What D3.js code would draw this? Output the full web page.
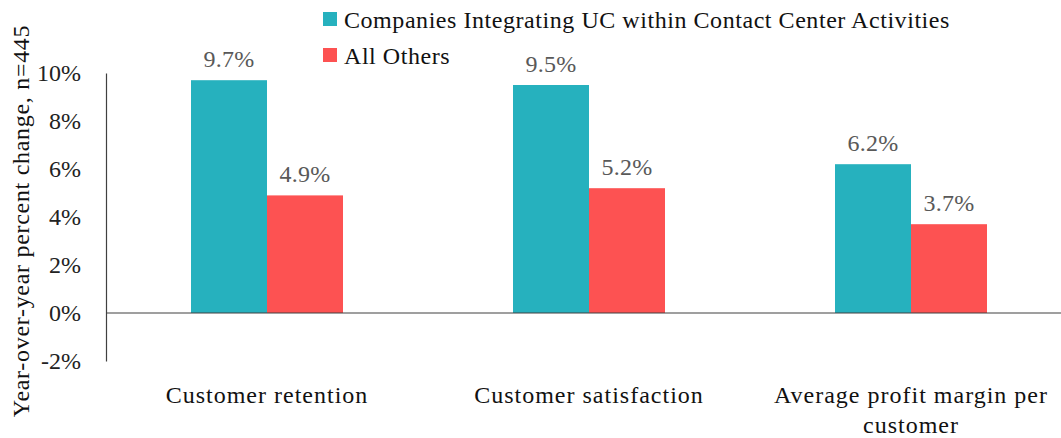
<!DOCTYPE html>
<html><head><meta charset="utf-8">
<script src="https://cdn.jsdelivr.net/npm/d3@7"></script>
<style>body{margin:0;background:#fff}svg{display:block}svg text{font-family:"Liberation Serif","Times New Roman",Tinos,Times,"DejaVu Serif",serif !important}</style>
</head><body><svg id="c" width="1061" height="438"></svg>
<script>
const categories = [["Customer retention"], ["Customer satisfaction"], ["Average profit margin per", "customer"]];
const seriesNames = ["Companies Integrating UC within Contact Center Activities", "All Others"];
const ucValues = [9.7, 9.5, 6.2];
const otherValues = [4.9, 5.2, 3.7];
const yTicks = [-2, 0, 2, 4, 6, 8, 10];
const colors = ["#26B1BE", "#FD5252"];
const FONT = '"Liberation Serif","Times New Roman",Tinos,Times,"DejaVu Serif",serif';

const svg = d3.select("#c");
const x = d3.scaleBand().domain(d3.range(categories.length)).range([106, 1072]);
const y = d3.scaleLinear().domain([-2, 10]).range([361, 73]);
const barW = 76;
const series = [ucValues, otherValues];

series.forEach((vals, si) => {
  svg.append("g").selectAll("rect").data(vals).join("rect")
    .attr("x", (d, i) => x(i) + x.bandwidth() / 2 - barW + si * barW)
    .attr("width", barW)
    .attr("y", d => y(Math.max(0, d)))
    .attr("height", d => Math.abs(y(d) - y(0)))
    .attr("fill", colors[si]);
  svg.append("g").selectAll("text").data(vals).join("text")
    .attr("x", (d, i) => x(i) + x.bandwidth() / 2 - barW / 2 + si * barW)
    .attr("y", d => y(d) - 13)
    .attr("text-anchor", "middle")
    .attr("font-family", FONT)
    .attr("font-size", 24)
    .attr("letter-spacing", 0.3)
    .attr("fill", "#595959")
    .text(d => d.toFixed(1) + "%");
});

const ya = svg.append("g").attr("transform", "translate(106,0)")
  .call(d3.axisLeft(y).tickValues(yTicks).tickSize(0).tickPadding(25).tickFormat(d => d + "%"));
ya.attr("font-family", FONT);
ya.select(".domain").attr("stroke", "#404040").attr("stroke-width", 1.2);
ya.selectAll("text").attr("font-size", 24).attr("fill", "#222").attr("dy", "0.3em");

svg.append("line").attr("x1", 106).attr("x2", 1061).attr("y1", y(0)).attr("y2", y(0))
  .attr("stroke", "#404040").attr("stroke-width", 1.2);

const cl = svg.append("g").selectAll("text").data(categories).join("text")
  .attr("x", (d, i) => x(i) + x.bandwidth() / 2)
  .attr("y", 403)
  .attr("text-anchor", "middle")
  .attr("font-family", FONT)
  .attr("font-size", 24)
  .attr("letter-spacing", 1.0)
  .attr("fill", "#111");
cl.selectAll("tspan").data(d => d).join("tspan")
  .attr("x", function () { return d3.select(this.parentNode).attr("x"); })
  .attr("dy", (d, i) => i === 0 ? 0 : 30)
  .text(d => d);

svg.append("text").attr("transform", "translate(29,221) rotate(-90)")
  .attr("text-anchor", "middle").attr("font-family", FONT).attr("font-size", 24).attr("fill", "#111")
  .attr("letter-spacing", 0.7)
  .text("Year-over-year percent change, n=445");

const lg = svg.append("g").selectAll("g").data(seriesNames).join("g")
  .attr("transform", (d, i) => `translate(323,${12 + i * 36})`);
lg.append("rect").attr("width", 14).attr("height", 14).attr("fill", (d, i) => colors[i]);
lg.append("text").attr("x", 21).attr("y", 16).attr("font-family", FONT).attr("font-size", 24).attr("fill", "#111")
  .attr("letter-spacing", 0.55).text(d => d);
</script></body></html>
